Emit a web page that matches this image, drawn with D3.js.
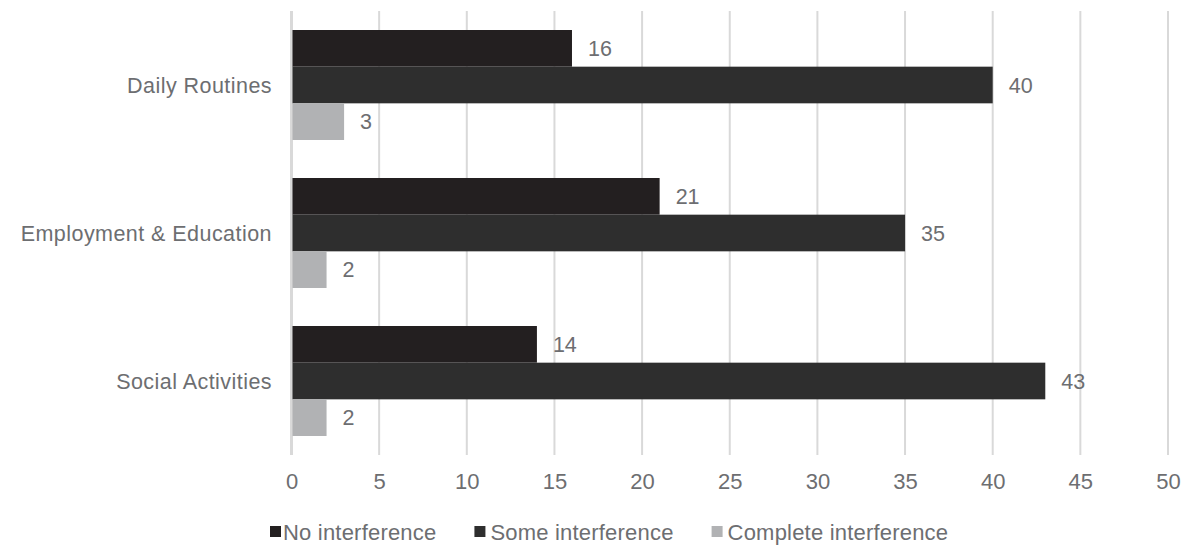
<!DOCTYPE html>
<html>
<head>
<meta charset="utf-8">
<script src="https://cdn.jsdelivr.net/npm/d3@7"></script>
<style>
  html, body { margin: 0; padding: 0; background: #fff; }
  svg { display: block; font-family: "Liberation Sans", Arial, Helvetica, sans-serif; }
</style>
</head>
<body>
<svg id="chart" width="1186" height="546"></svg>
<script>
// Survey areas (top to bottom) and interference levels
const categories = ["Daily Routines", "Employment & Education", "Social Activities"];
const seriesNames = ["No interference", "Some interference", "Complete interference"];
const noInterference = [16, 21, 14];
const someInterference = [40, 35, 43];
const completeInterference = [3, 2, 2];
const xTicks = [0, 5, 10, 15, 20, 25, 30, 35, 40, 45, 50];
const seriesColors = ["#231f20", "#2e2e2e", "#b1b2b4"];

const seriesValues = [noInterference, someInterference, completeInterference];
const rows = categories.map((c, i) => ({
  category: c,
  values: seriesNames.map((s, j) => ({ series: s, value: seriesValues[j][i], idx: j }))
}));

const svg = d3.select("#chart");
const textColor = "#6d6e71";

const plot = { left: 291.5, right: 1168, top: 11, bottom: 455 };

const x = d3.scaleLinear().domain([0, 50]).range([plot.left, plot.right]);
const y = d3.scaleBand().domain(categories).range([plot.top, plot.bottom])
  .paddingInner(0.2568).paddingOuter(0.1284);
const ySub = d3.scaleBand().domain(seriesNames).range([0, y.bandwidth()]);

// Vertical gridlines
svg.append("g").selectAll("line").data(xTicks).join("line")
  .attr("x1", d => x(d)).attr("x2", d => x(d))
  .attr("y1", plot.top).attr("y2", plot.bottom)
  .attr("stroke", "#d9d9d9")
  .attr("stroke-width", d => d === 0 ? 3 : 2);

// Bars
const groups = svg.append("g").selectAll("g").data(rows).join("g")
  .attr("transform", d => `translate(0,${y(d.category)})`);

groups.selectAll("rect").data(d => d.values).join("rect")
  .attr("x", x(0) + 1)
  .attr("y", d => ySub(d.series))
  .attr("width", d => x(d.value) - x(0) - 1)
  .attr("height", ySub.bandwidth())
  .attr("fill", d => seriesColors[d.idx]);

// Value labels
groups.selectAll("text").data(d => d.values).join("text")
  .attr("x", d => x(d.value) + 16)
  .attr("y", d => ySub(d.series) + ySub.bandwidth() / 2)
  .attr("dy", "0.35em")
  .attr("fill", textColor)
  .attr("font-size", 21.5)
  .text(d => d.value);

// Category axis labels
svg.append("g").selectAll("text").data(categories).join("text")
  .attr("x", 272)
  .attr("y", d => y(d) + y.bandwidth() / 2)
  .attr("dy", "0.35em")
  .attr("text-anchor", "end")
  .attr("fill", textColor)
  .attr("font-size", 21.5)
  .attr("letter-spacing", 0.45)
  .text(d => d);

// Value axis
const xAxis = d3.axisBottom(x).tickValues(xTicks).tickSize(0).tickPadding(0);
const xg = svg.append("g").attr("transform", `translate(0,${plot.bottom})`).call(xAxis);
xg.select(".domain").remove();
xg.selectAll("text")
  .attr("y", 26.5)
  .attr("dy", "0.35em")
  .attr("fill", textColor)
  .attr("font-size", 22)
  .attr("font-family", "Liberation Sans, Arial, sans-serif");

// Legend
const legend = svg.append("g").attr("transform", "translate(270,532)");
let lx = 0;
seriesNames.forEach((name, i) => {
  const item = legend.append("g").attr("transform", `translate(${lx},0)`);
  item.append("rect")
    .attr("x", 0).attr("y", -6).attr("width", 11).attr("height", 11)
    .attr("fill", seriesColors[i]);
  const tx = i === 0 ? 13 : 16;
  const t = item.append("text")
    .attr("x", tx)
    .attr("y", 0)
    .attr("dy", "0.35em")
    .attr("fill", textColor)
    .attr("font-size", 22)
    .attr("letter-spacing", 0.2)
    .text(name);
  lx += tx + t.node().getComputedTextLength() + 38;
});
</script>
</body>
</html>
